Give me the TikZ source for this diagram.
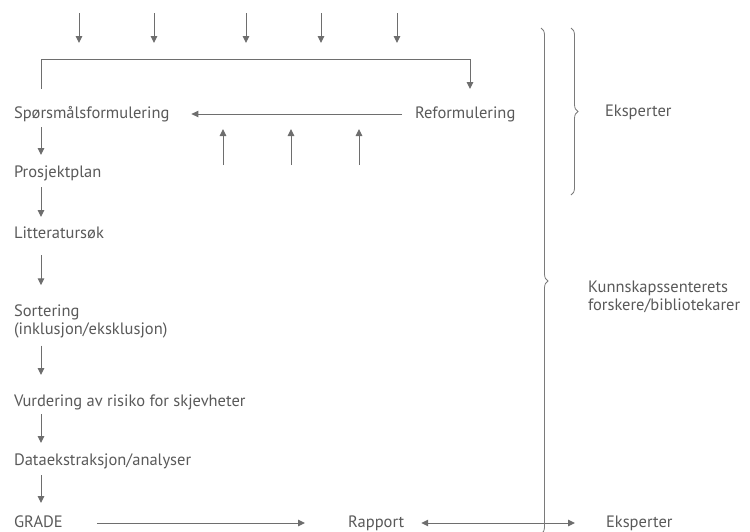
\documentclass[tikz,border=0pt]{standalone}
\usepackage{fontspec}
\setmainfont{PT Sans}
\usetikzlibrary{arrows.meta,decorations.pathreplacing}
\definecolor{textcolor}{HTML}{595959}
\definecolor{linecolor}{HTML}{6E6E6E}
\definecolor{bracecolor}{HTML}{7A7A7A}

\begin{document}
\begin{tikzpicture}[x=1pt,y=-1pt,
    lbl/.style={anchor=base west, inner sep=0pt, outer sep=0pt, text=textcolor,
        font=\fontsize{16.5}{18}\selectfont, text height=12pt, text depth=4pt},
    lbl2/.style={anchor=base west, inner sep=0pt, outer sep=0pt, text=textcolor,
        font=\fontsize{16.5}{18}\selectfont, align=left},
    arr/.style={draw=linecolor, line width=1pt, -{Triangle[length=7pt,width=6.5pt]}},
    brc/.style={draw=bracecolor, line width=0.8pt, decorate,
        decoration={brace, amplitude=7pt}}]
\useasboundingbox (0,0) rectangle (750,531);

% steps
\node[lbl] (spm) at (14,118) {Spørsmålsformulering};
\node[lbl] (ref) at (415,118) {Reformulering};
\node[lbl] (pp) at (14,177) {Prosjektplan};
\node[lbl] (lit) at (14,238) {Litteratursøk};
\node[lbl2] (sort) at (14,334) {Sortering\\(inklusjon/eksklusjon)};
\node[lbl] (vurd) at (14,406) {Vurdering av risiko for skjevheter};
\node[lbl] (data) at (14,465) {Dataekstraksjon/analyser};
\node[lbl] (grade) at (14,527) {GRADE};
\node[lbl] (rap) at (348,527) {Rapport};
\node[lbl] (eks1) at (605,116) {Eksperter};
\node[lbl] (eks2) at (606,527) {Eksperter};
\node[lbl2] (ksf) at (588,310) {Kunnskapssenterets\\forskere/bibliotekarer};

\coordinate (colx) at (41,0);
\coordinate (barR) at (470,59);

% inputs from above and below
\foreach \x [count=\i] in {79,154,246,321,397} {
    \coordinate (in\i) at (\x,13);
    \coordinate (inend\i) at (\x,43);
    \draw[arr] (in\i) -- (inend\i);
}
\foreach \x [count=\i] in {223,291,359} {
    \coordinate (up\i) at (\x,165);
    \coordinate (upend\i) at (\x,129);
    \draw[arr] (up\i) -- (upend\i);
}

% loop back
\draw[arr, shorten <=17pt, shorten >=17pt] (spm.north -| colx) |- (barR) -- (barR |- ref.north);
\draw[arr, shorten <=13pt, shorten >=22pt] (ref.west) -- (spm.east);

% main chain
\draw[arr, shorten <=5pt, shorten >=10pt] (spm.south -| colx) -- (pp.north -| colx);
\draw[arr, shorten <=6pt, shorten >=9pt] (pp.south -| colx) -- (lit.north -| colx);
\draw[arr, shorten <=13pt, shorten >=19pt] (lit.south -| colx) -- (sort.north -| colx);
\draw[arr, shorten <=8pt, shorten >=19pt] (sort.south -| colx) -- (vurd.north -| colx);
\draw[arr, shorten <=4pt, shorten >=10pt] (vurd.south -| colx) -- (data.north -| colx);
\draw[arr, shorten <=6pt, shorten >=12pt] (data.south -| colx) -- (grade.north -| colx);

\draw[arr, shorten <=34pt, shorten >=43pt] (grade.east) -- (rap.west);
\draw[arr, {Triangle[length=7pt,width=6.5pt]}-{Triangle[length=7pt,width=6.5pt]},
    shorten <=17pt, shorten >=31pt] (rap.east) -- (eks2.west);

% braces
\coordinate (bigtop) at (541,28);
\coordinate (bigbot) at (541,534);
\coordinate (smalltop) at (571,28);
\coordinate (smallbot) at (571,195);
\draw[brc] (bigtop) -- (bigbot);
\draw[brc] (smalltop) -- (smallbot);
\end{tikzpicture}
\end{document}
